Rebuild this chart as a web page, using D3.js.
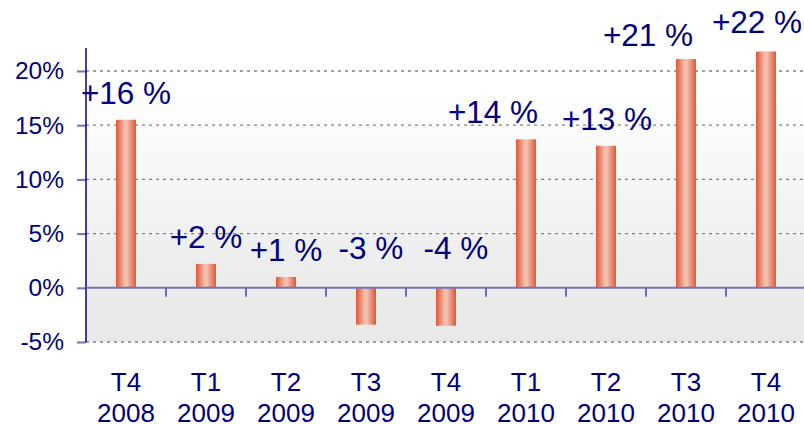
<!DOCTYPE html>
<html><head><meta charset="utf-8">
<script src="https://cdn.jsdelivr.net/npm/d3@7"></script>
<style>body{margin:0;background:#fff}svg{display:block}text{font-family:"Liberation Sans",Arial,sans-serif}</style>
</head><body><svg id="c" width="804" height="424"></svg>
<script>
const quarters = ["T4","T1","T2","T3","T4","T1","T2","T3","T4"];
const years = ["2008","2009","2009","2009","2009","2010","2010","2010","2010"];
const values = [15.5, 2.2, 1.0, -3.4, -3.5, 13.7, 13.1, 21.1, 21.8];
const labels = ["+16 %","+2 %","+1 %","-3 %","-4 %","+14 %","+13 %","+21 %","+22 %"];
const yTicks = [-5, 0, 5, 10, 15, 20];
// label placement offsets (x in px relative to bar centre, y baseline in value units)
const labelDx = [0, 0, 0, 5, 10, -33, 1, -38, -9];
const labelAt = [17.0, 3.7, 2.5, 2.65, 2.65, 15.2, 14.55, 22.3, 23.5];

const svg = d3.select("#c");
const L = 86, R = 806, T = 48;
const y = d3.scaleLinear().domain([-5, 20]).range([342, 71]);
const x = d3.scaleBand().domain(d3.range(values.length)).range([L, R]);
const B = y(-5);

const defs = svg.append("defs");
const bg = defs.append("linearGradient").attr("id","bg").attr("x1",0).attr("y1",0).attr("x2",0).attr("y2",1);
bg.append("stop").attr("offset","0%").attr("stop-color","#ffffff");
bg.append("stop").attr("offset","15%").attr("stop-color","#ffffff");
bg.append("stop").attr("offset","80%").attr("stop-color","#ebebeb");
bg.append("stop").attr("offset","100%").attr("stop-color","#e9e9e9");
const bar = defs.append("linearGradient").attr("id","bar").attr("x1",0).attr("y1",0).attr("x2",1).attr("y2",0);
bar.append("stop").attr("offset","0%").attr("stop-color","#de5736");
bar.append("stop").attr("offset","45%").attr("stop-color","#f3c0ae");
bar.append("stop").attr("offset","55%").attr("stop-color","#f3bfad");
bar.append("stop").attr("offset","100%").attr("stop-color","#de5736");

svg.append("rect").attr("x",L).attr("y",T).attr("width",804-L).attr("height",B-T).attr("fill","url(#bg)");

// grid lines
svg.append("g").selectAll("line").data(yTicks.filter(d=>d!==0)).join("line")
  .attr("x1",L).attr("x2",804).attr("y1",d=>y(d)).attr("y2",d=>y(d))
  .attr("stroke","#808080").attr("stroke-width",1.3).attr("stroke-dasharray","3,4");

// bars
const bw = 20;
svg.append("g").selectAll("rect").data(values).join("rect")
  .attr("x",(d,i)=>x(i)+x.bandwidth()/2-bw/2).attr("width",bw)
  .attr("y",d=>y(Math.max(0,d))).attr("height",d=>Math.abs(y(d)-y(0)))
  .attr("fill","url(#bar)");

// y axis
const yAxis = d3.axisLeft(y).tickValues(yTicks).tickFormat(d=>d+"%").tickSize(9).tickPadding(13);
const ga = svg.append("g").attr("transform",`translate(${L},0)`).call(yAxis);
ga.select(".domain").remove();
ga.selectAll(".tick line").attr("stroke","#7070c0").attr("stroke-width",2);
ga.selectAll(".tick text").attr("fill","#000080").attr("font-size",24.5).attr("font-family","Liberation Sans, Arial, sans-serif");
svg.append("line").attr("x1",L).attr("x2",L).attr("y1",T).attr("y2",B).attr("stroke","#000080").attr("stroke-width",1.5);

// zero line
svg.append("line").attr("x1",L).attr("x2",804).attr("y1",y(0)).attr("y2",y(0)).attr("stroke","#7373bd").attr("stroke-width",2);
// x ticks
svg.append("g").selectAll("line").data(d3.range(1, values.length)).join("line")
  .attr("x1",d=>x(d)).attr("x2",d=>x(d)).attr("y1",y(0)).attr("y2",y(0)+9)
  .attr("stroke","#6a6ab8").attr("stroke-width",2);

// x labels
const xl = svg.append("g").selectAll("text").data(quarters).join("text")
  .attr("x",(d,i)=>x(i)+x.bandwidth()/2).attr("text-anchor","middle")
  .attr("fill","#000080").attr("font-size",26);
xl.append("tspan").attr("x",(d,i)=>x(i)+x.bandwidth()/2).attr("y",391).text(d=>d);
xl.append("tspan").attr("x",(d,i)=>x(i)+x.bandwidth()/2).attr("y",422).text((d,i)=>years[i]);

// value labels
svg.append("g").selectAll("text").data(labels).join("text")
  .attr("x",(d,i)=>x(i)+x.bandwidth()/2+labelDx[i]).attr("y",(d,i)=>y(labelAt[i]))
  .attr("text-anchor","middle").attr("fill","#000080").attr("font-size",31.5).text(d=>d);
</script></body></html>
